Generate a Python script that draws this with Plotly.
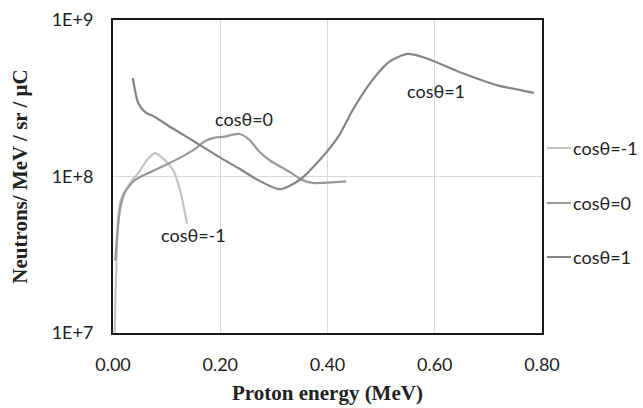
import math
import plotly.graph_objects as go

# Data
x_m1 = [0.003, 0.006, 0.013, 0.032, 0.047, 0.063, 0.078, 0.097, 0.112, 0.125, 0.138]
y_m1 = [1.0e7, 2.5e7, 6.8e7, 9.1e7, 1.05e8, 1.27e8, 1.41e8, 1.27e8, 1.1e8, 8.2e7, 5.0e7]

x_0 = [0.004, 0.013, 0.022, 0.041, 0.065, 0.097, 0.134, 0.153, 0.171, 0.19, 0.205, 0.236,
       0.255, 0.273, 0.292, 0.329, 0.353, 0.372, 0.435]
y_0 = [2.9e7, 6.1e7, 7.9e7, 9.5e7, 1.05e8, 1.18e8, 1.37e8, 1.5e8, 1.68e8, 1.77e8, 1.79e8, 1.87e8,
       1.71e8, 1.44e8, 1.27e8, 1.07e8, 9.5e7, 9.1e7, 9.3e7]

x_1 = [0.037, 0.047, 0.06, 0.078, 0.11, 0.147, 0.203, 0.236, 0.27, 0.311, 0.348, 0.385,
       0.422, 0.447, 0.484, 0.515, 0.549, 0.584, 0.651, 0.714, 0.785]
y_1 = [4.26e8, 2.95e8, 2.58e8, 2.4e8, 2.04e8, 1.71e8, 1.3e8, 1.12e8, 9.5e7, 8.3e7, 9.5e7, 1.27e8,
       1.84e8, 2.66e8, 4.14e8, 5.4e8, 6.07e8, 5.7e8, 4.58e8, 3.85e8, 3.42e8]

names = ["cosθ=-1", "cosθ=0", "cosθ=1"]
colors = ["#c3c3c3", "#999999", "#858585"]
series = [(x_m1, y_m1), (x_0, y_0), (x_1, y_1)]

x_ticks = [0, 0.2, 0.4, 0.6, 0.8]
x_tick_text = ["0.00", "0.20", "0.40", "0.60", "0.80"]
y_ticks = [1e7, 1e8, 1e9]
y_tick_text = ["1E+7", "1E+8", "1E+9"]

# label positions (data coordinates) for in-plot labels
label_pos = [(0.151, 4.2e7), (0.245, 2.33e8), (0.603, 3.5e8)]

fig = go.Figure()
for (xs, ys), n, c in zip(series, names, colors):
    fig.add_trace(go.Scatter(x=xs, y=ys, mode="lines", name=n,
                             line=dict(color=c, width=2.2, shape="spline", smoothing=0.7),
                             showlegend=False))

tick_font = dict(family="Lato, Open Sans, sans-serif", size=18, color="#222222")
for (lx, ly), n in zip(label_pos, names):
    fig.add_annotation(x=lx, y=math.log10(ly), yref="y", xref="x", text=n, showarrow=False,
                       font=tick_font)

# manual legend
leg_y = [148, 203, 257]
for yy, n, c in zip(leg_y, names, colors):
    fy = (333 - yy) / 313.0
    fig.add_shape(type="line", xref="paper", yref="paper",
                  x0=(547 - 113) / 429.0, x1=(571 - 113) / 429.0,
                  y0=fy, y1=fy, line=dict(color=c, width=2))
    fig.add_annotation(xref="paper", yref="paper", x=(571 - 113) / 429.0,
                       y=fy, text=n, showarrow=False,
                       xanchor="left", yanchor="middle", font=tick_font)

title_font = dict(family="Liberation Serif", size=21, color="#222222")
fig.update_layout(
    width=643, height=408,
    margin=dict(l=113, r=101, t=20, b=75, autoexpand=False),
    plot_bgcolor="white", paper_bgcolor="white",
    showlegend=False,
)
fig.update_xaxes(range=[0, 0.8], tickvals=x_ticks, ticktext=x_tick_text,
                 showgrid=True, gridcolor="#d9d9d9", gridwidth=1,
                 showline=True, linecolor="#1a1a1a", linewidth=2, mirror=True,
                 ticks="", tickfont=tick_font, zeroline=False, ticklabelstandoff=14,
                 automargin=False,
                 title=dict(text="<b>Proton energy (MeV)</b>", font=title_font, standoff=12))
fig.update_yaxes(type="log", range=[7, 9], tickvals=y_ticks, ticktext=y_tick_text,
                 showgrid=True, gridcolor="#d9d9d9", gridwidth=1,
                 showline=True, linecolor="#1a1a1a", linewidth=2, mirror=True,
                 ticks="", tickfont=tick_font, zeroline=False, ticklabelstandoff=14,
                 automargin=False,
                 title=dict(text="<b>Neutrons/ MeV / sr / μC</b>", font=title_font, standoff=18))

fig.write_html("out.html")
